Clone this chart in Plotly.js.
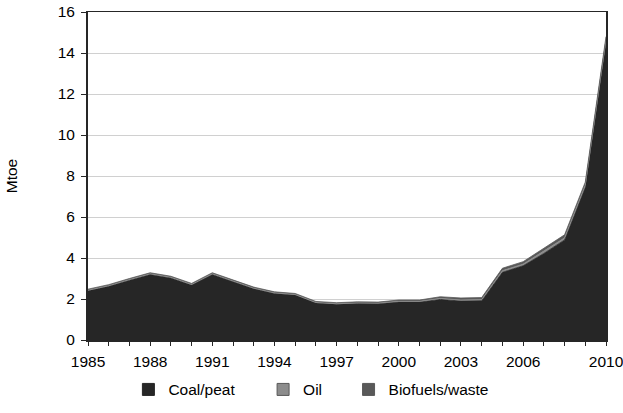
<!DOCTYPE html>
<html><head><meta charset="utf-8">
<script src="https://cdn.plot.ly/plotly-3.0.1.min.js"></script>
<style>html,body{margin:0;padding:0;background:#fff}#chart{width:623px;height:413px}</style>
</head><body><div id="chart"></div>
<script>
const years = [1985,1986,1987,1988,1989,1990,1991,1992,1993,1994,1995,1996,1997,1998,1999,2000,2001,2002,2003,2004,2005,2006,2007,2008,2009,2010];
const coalPeat = [2.40,2.62,2.92,3.20,3.03,2.68,3.20,2.85,2.50,2.27,2.19,1.80,1.74,1.78,1.77,1.85,1.85,1.98,1.90,1.92,3.30,3.62,4.22,4.88,7.45,14.55];
const oil = [0.03,0.03,0.03,0.03,0.03,0.03,0.03,0.03,0.03,0.03,0.03,0.03,0.03,0.03,0.03,0.04,0.04,0.05,0.05,0.05,0.08,0.08,0.10,0.10,0.10,0.10];
const biofuels = [0.05,0.05,0.05,0.05,0.05,0.05,0.05,0.05,0.05,0.05,0.05,0.05,0.05,0.05,0.05,0.06,0.06,0.08,0.10,0.10,0.12,0.12,0.15,0.15,0.15,0.15];
const seriesNames = ["Coal/peat","Oil","Biofuels/waste"];
const labelledYears = [1985,1988,1991,1994,1997,2000,2003,2006,2010];
const yTicks = [0,2,4,6,8,10,12,14,16];

const colors = ["#262626","#8c8c8c","#595959"];
const seriesData = [coalPeat, oil, biofuels];
const font = {family:"Liberation Sans, Arial, sans-serif", size:15.5, color:"#000"};

const traces = seriesData.map((v,i)=>({
  type:"scatter", mode:"lines", x:years, y:v, stackgroup:"one",
  line:{color:colors[i], width:i===1?1:0.8}, fillcolor:colors[i],
  showlegend:false, hoverinfo:"skip"
}));
// legend entries (square swatches)
const legendX = [0.078, 0.338, 0.503];
seriesNames.forEach((n,i)=>{
  traces.push({type:"bar", x:[years[0]], y:[0], name:n,
    marker:{color:colors[i], line:{color: i===1?"#595959":colors[i], width:1}},
    showlegend:true, legend: i===0?"legend":"legend"+(i+1), hoverinfo:"skip"});
});

const legBase = {orientation:"h", yanchor:"middle", y:-0.152, xanchor:"left",
  font:font, bgcolor:"rgba(0,0,0,0)", borderwidth:0, itemwidth:30};
const layout = {
  width:623, height:413,
  margin:{l:88, r:17, t:12, b:73, autoexpand:false},
  paper_bgcolor:"#fff", plot_bgcolor:"#fff",
  font:font,
  barmode:"overlay",
  xaxis:{range:[1985,2010], tickvals:years,
    ticktext:years.map(y=>labelledYears.includes(y)?String(y):""),
    ticks:"outside", ticklen:4, tickcolor:"#262626", tickwidth:1, ticklabelstandoff:3,
    ticklabeloverflow:"allow", automargin:false,
    showgrid:false, zeroline:false, showline:true, linecolor:"#262626", linewidth:1.5, mirror:true,
    tickfont:font, fixedrange:true},
  yaxis:{range:[0,16], tickvals:yTicks, ticks:"outside", ticklen:5, tickcolor:"#262626", ticklabelstandoff:3,
    ticklabeloverflow:"allow", automargin:false,
    showgrid:true, gridcolor:"#d0d0d0", gridwidth:1, zeroline:false,
    showline:true, linecolor:"#262626", linewidth:2, mirror:true,
    tickfont:font, title:{text:"Mtoe", font:font, standoff:36}},
  legend:Object.assign({}, legBase, {x:legendX[0]}),
  legend2:Object.assign({}, legBase, {x:legendX[1]}),
  legend3:Object.assign({}, legBase, {x:legendX[2]}),
};
Plotly.newPlot("chart", traces, layout, {staticPlot:true, displayModeBar:false});
</script></body></html>
